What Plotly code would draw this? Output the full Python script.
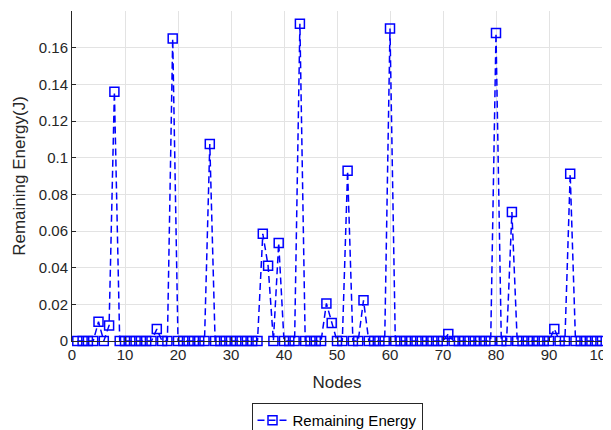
import plotly.graph_objects as go

nodes = list(range(1, 101))
energy = [0.0] * 100
spike_nodes = [5, 7, 8, 16, 19, 26, 36, 37, 39, 43, 48, 49, 52, 55, 60, 71, 80, 83, 91, 94]
spike_values = [0.0105, 0.0085, 0.136, 0.0065, 0.165, 0.1075, 0.0585, 0.041, 0.0535, 0.173,
                0.0205, 0.0098, 0.0928, 0.0222, 0.1705, 0.0038, 0.168, 0.0703, 0.0066, 0.0912]
for n, v in zip(spike_nodes, spike_values):
    energy[n - 1] = v

x_ticks = list(range(0, 101, 10))
y_ticks = [0, 0.02, 0.04, 0.06, 0.08, 0.1, 0.12, 0.14, 0.16]
y_tick_text = ["0", "0.02", "0.04", "0.06", "0.08", "0.1", "0.12", "0.14", "0.16"]

font = "Liberation Sans, Arial, sans-serif"
blue = "rgb(0,0,255)"

fig = go.Figure()
fig.add_trace(go.Scatter(
    x=nodes, y=energy, mode="lines+markers", name="Remaining Energy",
    line=dict(color=blue, width=1.5, dash="7px,4px"),
    marker=dict(symbol="square-open", size=9, color=blue, line=dict(width=1.5, color=blue)),
    cliponaxis=False,
))

fig.update_layout(
    width=603, height=422,
    margin=dict(l=64, r=9, t=3, b=89, autoexpand=False),
    paper_bgcolor="white", plot_bgcolor="white",
    font=dict(family=font, size=15, color="#262626"),
    showlegend=True,
    legend=dict(x=0.5, xanchor="center", y=-0.188, yanchor="top",
                bordercolor="#262626", borderwidth=1, bgcolor="white",
                font=dict(size=15, color="#000000")),
    xaxis=dict(range=[0, 100], tickvals=x_ticks, showgrid=True, gridcolor="#e3e3e3",
               gridwidth=1, showline=True, linecolor="#262626", linewidth=1,
               ticks="inside", ticklen=4, tickcolor="#262626", zeroline=False,
               automargin=False, ticklabeloverflow="allow",
               title=dict(text="Nodes", font=dict(size=17, color="#262626"), standoff=14),
               mirror=False),
    yaxis=dict(range=[0, 0.18], tickvals=y_ticks, ticktext=y_tick_text, showgrid=True,
               gridcolor="#e3e3e3", gridwidth=1, showline=True, linecolor="#262626",
               linewidth=1, ticks="inside", ticklen=4, tickcolor="#262626", zeroline=False,
               automargin=False, ticklabeloverflow="allow",
               title=dict(text="Remaining Energy(J)", font=dict(size=17, color="#262626"), standoff=8)),
)

fig.write_html("out.html")
